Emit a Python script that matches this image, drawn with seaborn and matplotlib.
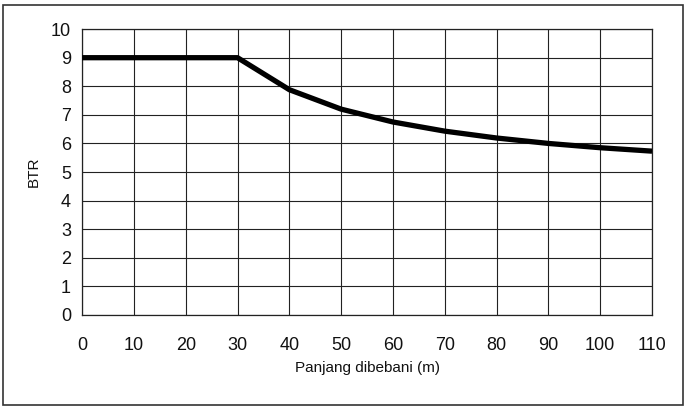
import matplotlib
matplotlib.use("Agg")
import matplotlib.pyplot as plt
import seaborn as sns
import pandas as pd
from matplotlib.patches import Rectangle

panjang = [0, 10, 20, 30, 40, 50, 60, 70, 80, 90, 100, 110]
btr = [9.0, 9.0, 9.0, 9.0, 7.88, 7.2, 6.75, 6.43, 6.19, 6.0, 5.85, 5.73]
x_ticks = [0, 10, 20, 30, 40, 50, 60, 70, 80, 90, 100, 110]
y_ticks = list(range(0, 11))

sns.set_theme(style="white")
plt.rcParams['font.family'] = ['Liberation Sans', 'DejaVu Sans']

df = pd.DataFrame({"Panjang dibebani (m)": panjang, "BTR": btr})

fig = plt.figure(figsize=(6.9, 4.16), dpi=100)
ax = fig.add_axes([0.119, 0.243, 0.826, 0.687])
sns.lineplot(data=df, x="Panjang dibebani (m)", y="BTR", ax=ax,
             color="black", linewidth=3.8, solid_capstyle="butt", zorder=3)

ax.set_xlim(0, 110)
ax.set_ylim(0, 10)
ax.set_xticks(x_ticks)
ax.set_yticks(y_ticks)
ax.grid(True, color="#222222", linewidth=0.8)
for s in ax.spines.values():
    s.set_color("#222222")
    s.set_linewidth(0.9)
ax.tick_params(axis="both", which="both", length=4, width=0.8, color="#222222",
               direction="out", labelsize=13, labelcolor="#111111", pad=4)
ax.tick_params(axis="x", pad=12)
ax.set_xlabel("Panjang dibebani (m)", fontsize=11, color="#111111", labelpad=5)
ax.set_ylabel("BTR", fontsize=11, color="#111111", labelpad=7)

fig.patches.append(Rectangle((0.005, 0.027), 0.985, 0.96, transform=fig.transFigure,
                             fill=False, edgecolor="#333333", linewidth=1.2))

fig.savefig("out.png", dpi=100)
